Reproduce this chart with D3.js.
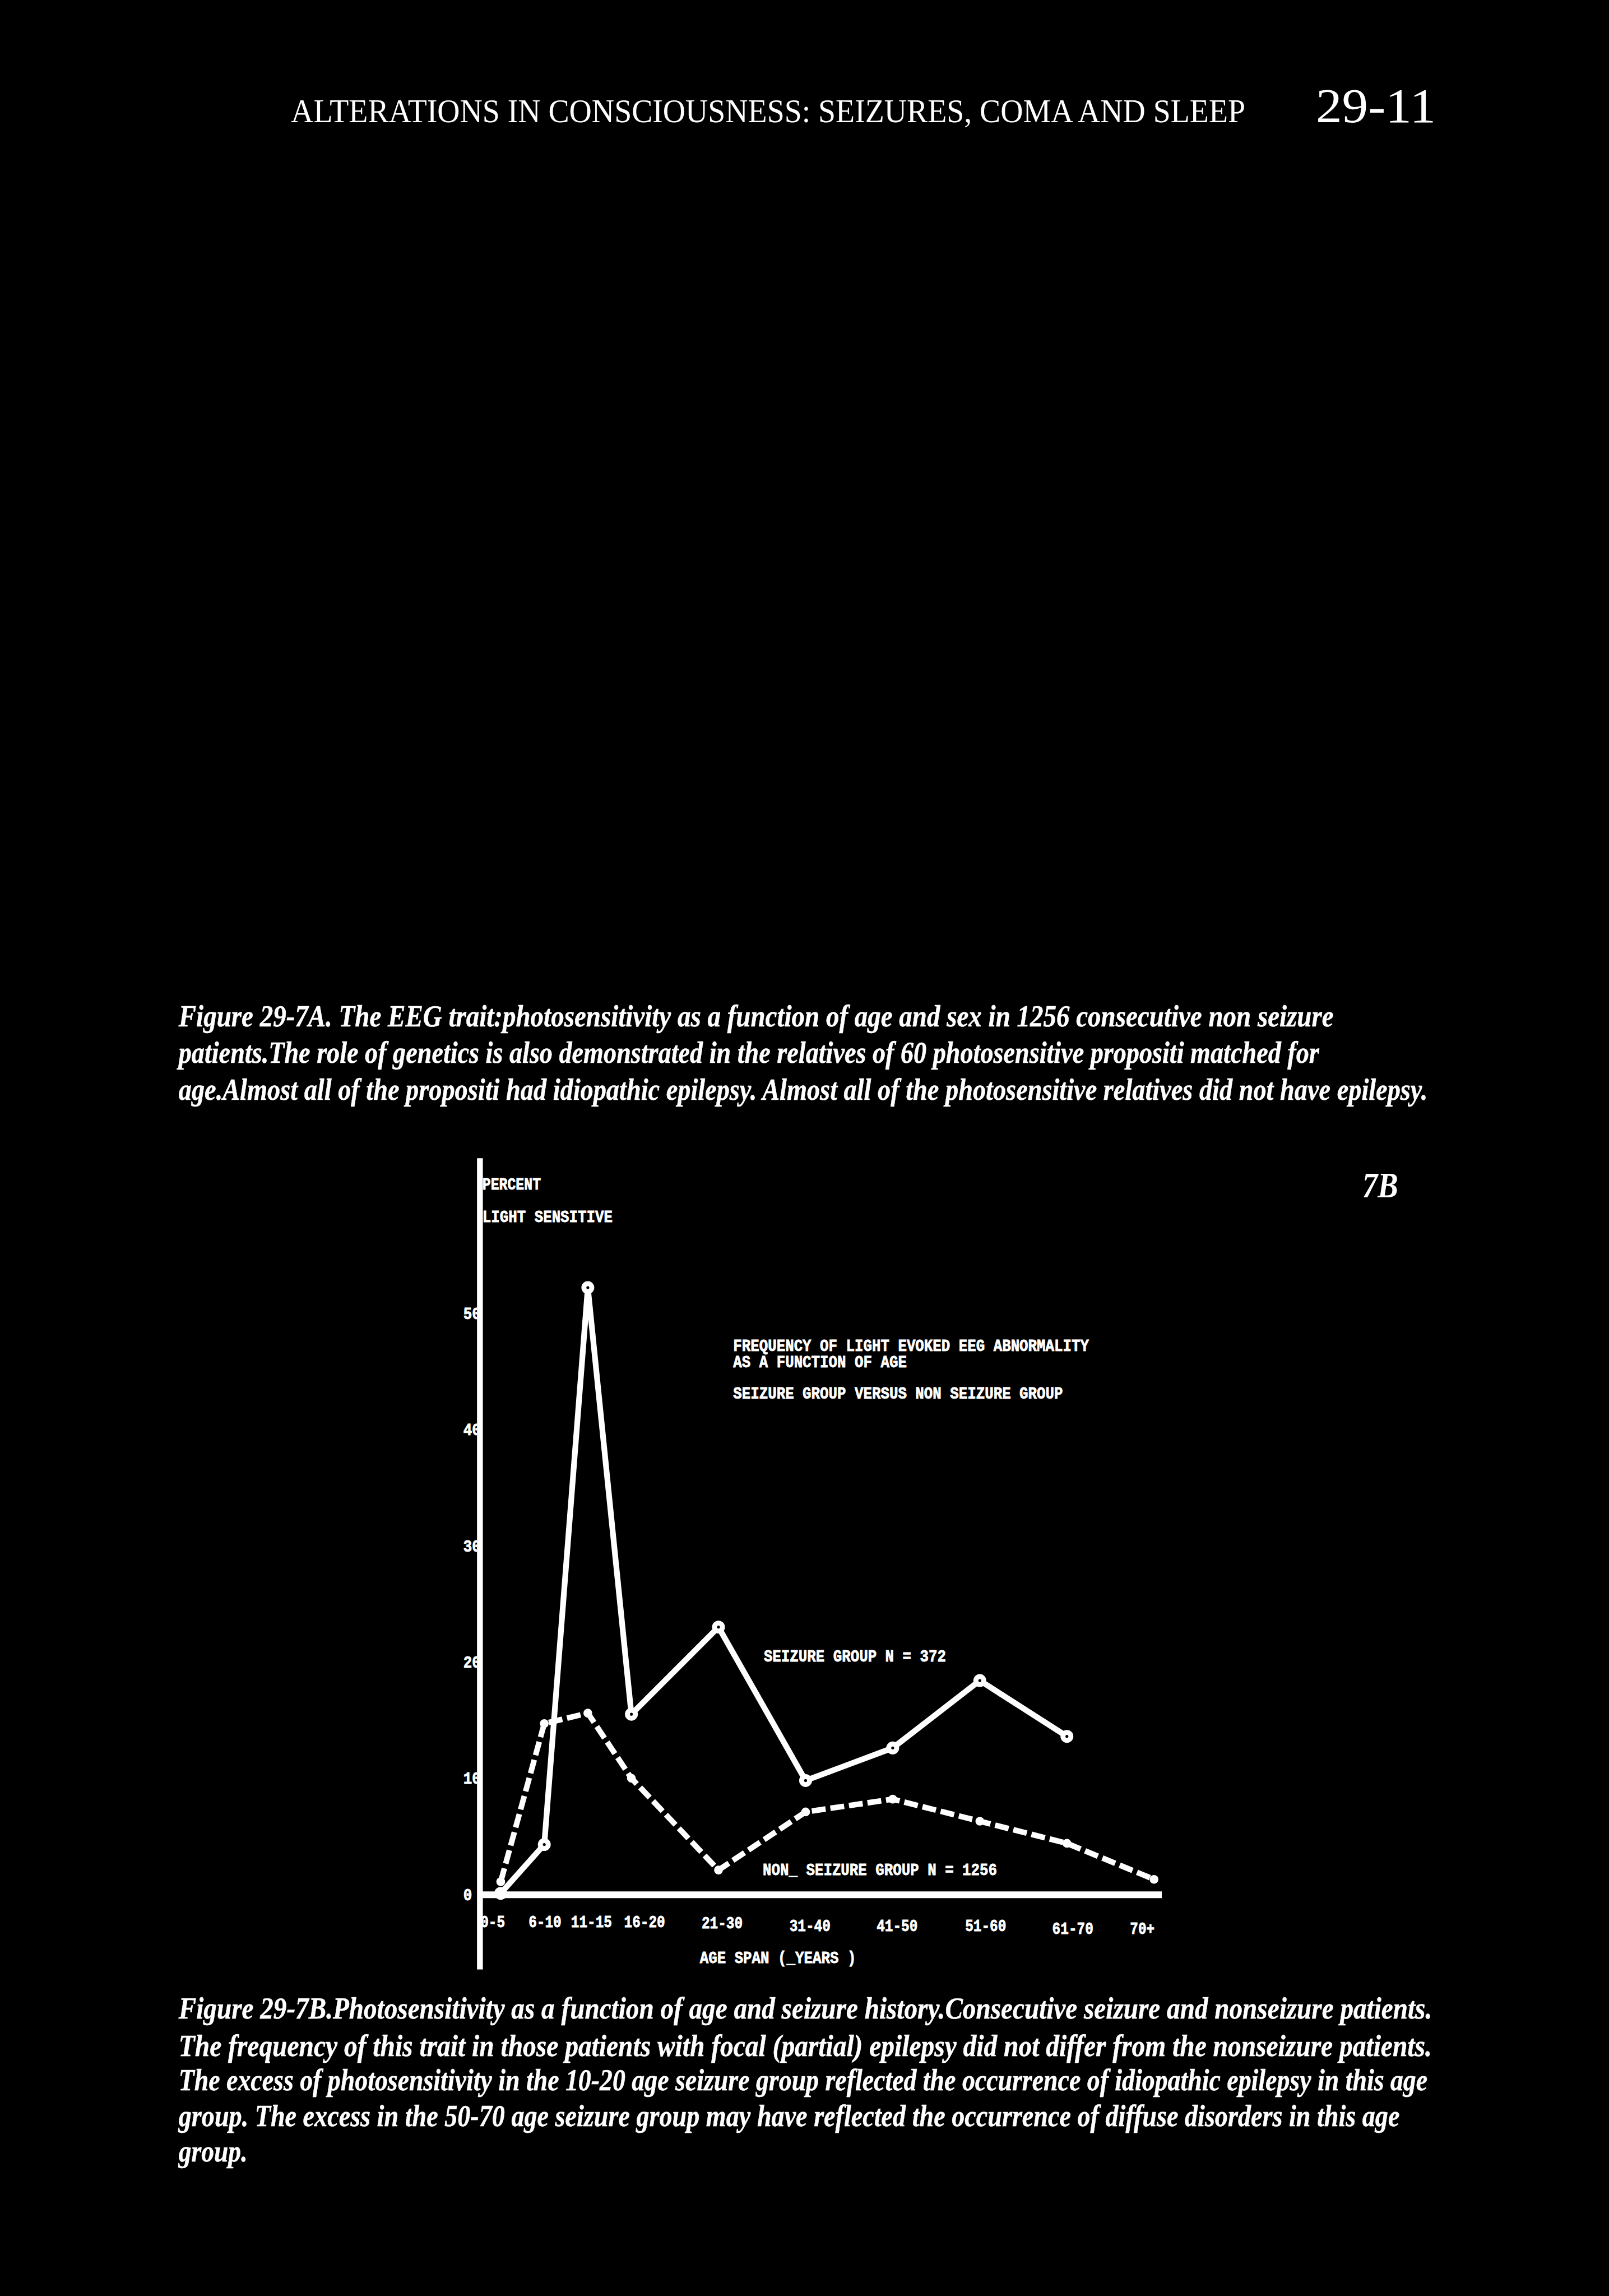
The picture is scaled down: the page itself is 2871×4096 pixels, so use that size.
<!DOCTYPE html>
<html>
<head>
<meta charset="utf-8">
<script src="https://cdn.jsdelivr.net/npm/d3@7"></script>
<style>
  html, body { margin: 0; padding: 0; background: #000; overflow: hidden; }
  svg { display: block; }
</style>
</head>
<body>
<svg id="page"></svg>
<script>
// ---------------- DATA ----------------
const ageGroups = ["0-5", "6-10", "11-15", "16-20", "21-30", "31-40", "41-50", "51-60", "61-70", "70+"];
const seizurePct = [0, 4.2, 52.1, 15.4, 22.9, 9.7, 12.5, 18.3, 13.5, null];
const nonSeizurePct = [1.0, 14.6, 15.5, 9.9, 2.0, 7.0, 8.1, 6.2, 4.3, 1.2];
const yTickValues = [0, 10, 20, 30, 40, 50];

const headerText = "ALTERATIONS IN CONSCIOUSNESS: SEIZURES, COMA AND SLEEP";
const pageNumber = "29-11";
const captionA = [
  "Figure 29-7A. The EEG trait:photosensitivity as a function of age and sex in 1256 consecutive non seizure",
  "patients.The role of genetics is also demonstrated in the relatives of 60 photosensitive propositi matched for",
  "age.Almost all of the propositi had idiopathic epilepsy. Almost all of the photosensitive relatives did not have epilepsy."
];
const captionB = [
  "Figure 29-7B.Photosensitivity as a function of age and seizure history.Consecutive seizure and nonseizure patients.",
  "The frequency of this trait in those patients with focal (partial) epilepsy did not differ from the nonseizure patients.",
  "The excess of photosensitivity in the 10-20 age seizure group reflected the occurrence of idiopathic epilepsy in this age",
  "group. The excess in the 50-70 age seizure group may have reflected the occurrence of diffuse disorders in this age",
  "group."
];
const chartTitle = [
  "FREQUENCY OF LIGHT EVOKED EEG ABNORMALITY",
  "AS A FUNCTION OF AGE",
  "SEIZURE GROUP VERSUS NON SEIZURE GROUP"
];
const yAxisTitle = ["PERCENT", "LIGHT SENSITIVE"];
const xAxisTitle = "AGE SPAN (_YEARS )";
const seizureLabel = "SEIZURE GROUP N = 372";
const nonSeizureLabel = "NON_ SEIZURE GROUP N = 1256";
const panelTag = "7B";

// ---------------- LAYOUT (reference units, 1099 x 1568 view) ----------------
const W = 1099, H = 1568;
const SERIF = "'Liberation Serif', 'DejaVu Serif', serif";
const MONO = "'Liberation Mono', 'DejaVu Sans Mono', monospace";
const capStart = 122;
const capAEnds = [911, 901, 975], capABase = [701, 725.7, 751];
const capBEnds = [978, 978, 975, 956, 169], capBBase = [1378.6, 1404, 1427.5, 1452, 1476];
const pitch = 5.93;      // typewriter character pitch
const tickPitch = 5.6;
const monoSize = 11.6;
// typed tick labels sit slightly off their points (layout offsets)
const tickShiftX = [-6, 0, 2, 8.5, 2, 2.5, 2.5, 3.5, 3.5, -8.5];
const tickShiftY = [-1.5, -1.5, -1.5, -1.5, -1, 1, 1, 1, 3, 3];

const svg = d3.select("#page")
  .attr("width", 2871).attr("height", 4096)
  .attr("viewBox", `0 0 ${W} ${H}`);

svg.append("rect").attr("width", W).attr("height", H).attr("fill", "#000");

// text whose glyphs are condensed horizontally to a target width
function txt(g, x, y, s, o) {
  const t = g.append("text").attr("x", 0).attr("y", 0).text(s)
    .attr("fill", "#fff")
    .attr("font-family", o.family)
    .attr("font-size", o.size)
    .attr("font-weight", o.weight || "normal")
    .attr("font-style", o.style || "normal")
    .attr("text-anchor", "start");
  if (o.stroke) t.attr("stroke", "#fff").attr("stroke-width", o.stroke);
  let sx = 1;
  if (o.length) {
    const w = t.node().getComputedTextLength();
    if (w > 0) sx = o.length / w;
  }
  t.attr("transform", `translate(${x},${y}) scale(${sx},1)`);
  return t;
}
function condense(sel, perChar) {
  sel.each(function () {
    const el = d3.select(this);
    const w = this.getComputedTextLength();
    const n = this.textContent.length;
    const sx = w > 0 ? (n * perChar) / w : 1;
    const tx = +el.attr("data-tx") || 0, ty = +el.attr("data-ty") || 0;
    el.attr("transform", `translate(${tx},${ty}) scale(${sx},1)`);
  });
}

// ---------------- HEADER ----------------
txt(svg, 198.7, 83.6, headerText, { family: SERIF, size: 22.5, length: 652 });
txt(svg, 898.8, 83.6, pageNumber, { family: SERIF, size: 33.5, length: 82 });

// ---------------- CAPTIONS ----------------
captionA.forEach((s, i) => txt(svg, capStart, capABase[i], s,
  { family: SERIF, size: 21, weight: "bold", style: "italic", length: capAEnds[i] - capStart, stroke: 0.2 }));
captionB.forEach((s, i) => txt(svg, capStart, capBBase[i], s,
  { family: SERIF, size: 21, weight: "bold", style: "italic", length: capBEnds[i] - capStart, stroke: 0.2 }));

// ---------------- CHART ----------------
// slot units: consecutive 5-year groups are one unit apart, 10-year groups two units
const units = [];
ageGroups.forEach((a, i) => {
  if (i === 0) { units.push(0); return; }
  const hi = +a.split("-")[1];
  units.push(units[i - 1] + (hi <= 20 ? 1 : 2));
});
const slot = d3.scaleLinear().domain([0, d3.max(units)]).range([342, 788.25]);
const x = d3.scaleOrdinal().domain(ageGroups).range(units.map(u => slot(u)));
const y = d3.scaleLinear().domain([0, 50]).range([1293, 896]);

const axisX0 = 327.8;           // vertical axis position
const axisTop = 791, axisBottom = 1345;
const axisY = 1294;             // horizontal axis position
const axisRight = x(ageGroups[ageGroups.length - 1]) + 5.3;

const chart = svg.append("g");

// axis titles and chart annotations (typewriter)
const mono = (g, xx, yy, s, p) => txt(g, xx, yy, s,
  { family: MONO, size: monoSize, weight: "bold", length: s.length * (p || pitch), stroke: 0.35 });

mono(chart, 329.5, 812.5, yAxisTitle[0], 5.7);
mono(chart, 329.5, 834.5, yAxisTitle[1]);
mono(chart, 500.8, 922.5, chartTitle[0]);
mono(chart, 500.8, 933.5, chartTitle[1]);
mono(chart, 500.8, 955, chartTitle[2]);
mono(chart, 521.7, 1134.5, seizureLabel);
mono(chart, 521, 1280.5, nonSeizureLabel);
mono(chart, 478, 1340.5, xAxisTitle);

// panel tag
txt(chart, 930.5, 817.6, panelTag, { family: SERIF, size: 24.5, weight: "bold", style: "italic", length: 24.5 });

// y tick labels, clipped by the axis
svg.append("defs").append("clipPath").attr("id", "yclip")
  .append("rect").attr("x", 0).attr("y", 0).attr("width", axisX0 - 2).attr("height", H);

const yAxisG = chart.append("g")
  .attr("clip-path", "url(#yclip)")
  .call(d3.axisLeft(y).tickValues(yTickValues).tickSize(0).tickFormat(d3.format("d")));
yAxisG.select(".domain").remove();
yAxisG.selectAll("text")
  .attr("x", 0).attr("dy", "0.36em")
  .attr("text-anchor", "start")
  .attr("fill", "#fff").attr("stroke", "#fff").attr("stroke-width", 0.35)
  .attr("font-family", MONO).attr("font-weight", "bold").attr("font-size", monoSize)
  .attr("data-tx", 316.5)
  .call(condense, pitch);

// x tick labels
const xAxisG = chart.append("g")
  .attr("transform", `translate(0,${axisY})`)
  .call(d3.axisBottom(x).tickSize(0));
xAxisG.select(".domain").remove();
xAxisG.selectAll("text")
  .attr("x", 0).attr("y", 23.8).attr("dy", 0)
  .attr("fill", "#fff").attr("stroke", "#fff").attr("stroke-width", 0.35)
  .attr("font-family", MONO).attr("font-weight", "bold").attr("font-size", 11.2)
  .attr("data-tx", (d, i) => tickShiftX[i])
  .attr("data-ty", (d, i) => tickShiftY[i])
  .call(condense, tickPitch);

// data lines
const rows = ageGroups.map((a, i) => ({ a, s: seizurePct[i], n: nonSeizurePct[i] }));

const lineS = d3.line().defined(d => d.s != null).x(d => x(d.a)).y(d => y(d.s));
const lineN = d3.line().defined(d => d.n != null).x(d => x(d.a)).y(d => y(d.n));

chart.append("path").datum(rows).attr("d", lineN)
  .attr("fill", "none").attr("stroke", "#fff").attr("stroke-width", 3.8)
  .attr("stroke-dasharray", "9.5 3.3").attr("stroke-linejoin", "round");

chart.append("path").datum(rows).attr("d", lineS)
  .attr("fill", "none").attr("stroke", "#fff").attr("stroke-width", 3.9)
  .attr("stroke-linejoin", "round").attr("stroke-linecap", "round");

chart.selectAll("circle.n").data(rows.filter(d => d.n != null)).join("circle")
  .attr("class", "n").attr("cx", d => x(d.a)).attr("cy", d => y(d.n))
  .attr("r", 3).attr("fill", "#fff");

chart.selectAll("circle.s").data(rows.filter(d => d.s != null)).join("circle")
  .attr("class", "s").attr("cx", d => x(d.a)).attr("cy", d => y(d.s))
  .attr("r", 2.7).attr("fill", "#000").attr("stroke", "#fff").attr("stroke-width", 3.4);

// axis lines
chart.append("line")
  .attr("x1", axisX0).attr("x2", axisX0).attr("y1", axisTop).attr("y2", axisBottom)
  .attr("stroke", "#fff").attr("stroke-width", 4);
chart.append("line")
  .attr("x1", axisX0 - 1).attr("x2", axisRight).attr("y1", axisY).attr("y2", axisY)
  .attr("stroke", "#fff").attr("stroke-width", 4.6);
</script>
</body>
</html>
